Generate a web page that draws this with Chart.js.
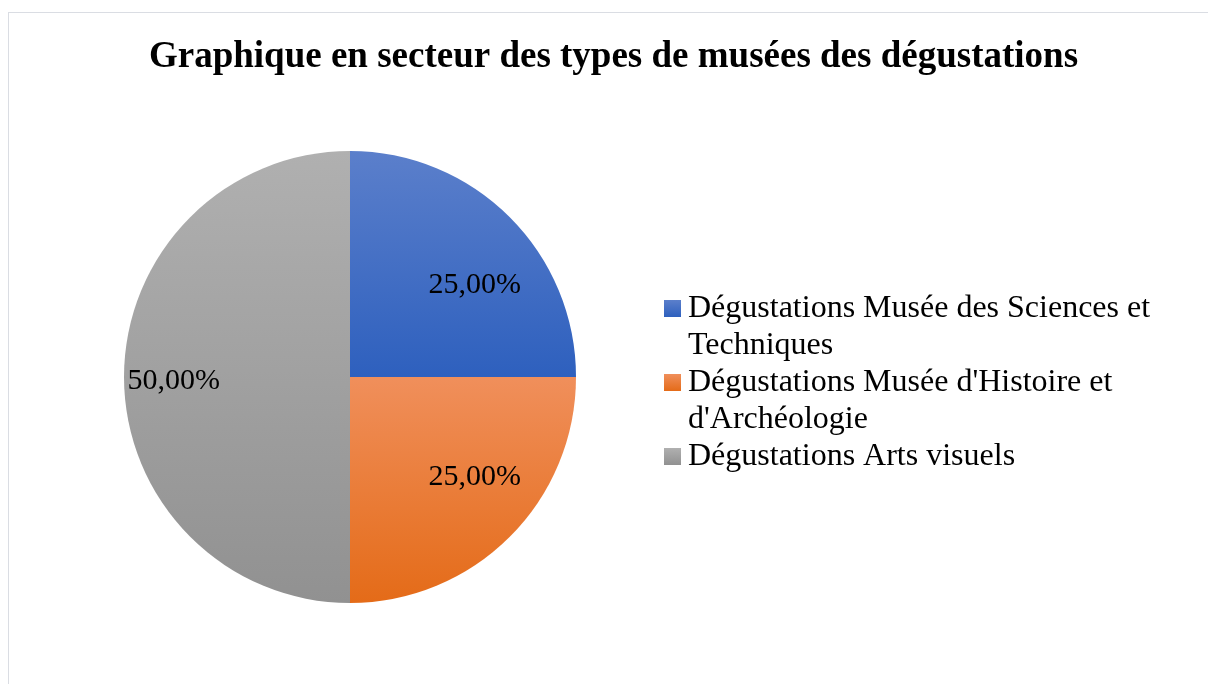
<!DOCTYPE html>
<html lang="fr">
<head>
<meta charset="utf-8">
<title>Graphique en secteur</title>
<script src="https://cdn.jsdelivr.net/npm/chart.js@4.4.0/dist/chart.umd.min.js"></script>
<style>
    html, body { margin: 0; padding: 0; background: #fff; overflow: hidden; }
    #cadre {
        position: absolute; left: 8px; top: 12px;
        width: 1212px; height: 690px;
        border-left: 1px solid #dadde3; border-top: 1px solid #dadde3;
    }
    #cadre canvas { position: absolute; left: -1px; top: -1px; }
</style>
</head>
<body>
<div id="cadre"><canvas id="pieChart" width="1212" height="690"></canvas></div>
<script>
// DONNÉES
const categories = [
    "Dégustations Musée des Sciences et Techniques",
    "Dégustations Musée d'Histoire et d'Archéologie",
    "Dégustations Arts visuels"
];
const valeurs = [25, 25, 50];
const etiquettes = ["25,00%", "25,00%", "50,00%"];
const titre = "Graphique en secteur des types de musées des dégustations";

// couleurs dégradées (haut, bas) de chaque secteur
const degrades = [
    ["#5b7fcb", "#2e60be"],
    ["#f08f5b", "#e46b18"],
    ["#b0b0b0", "#919191"]
];

const SERIF = "'Liberation Serif', 'Times New Roman', serif";

// géométrie d'un secteur à partir des valeurs
function bornesSecteur(chart, i) {
    const a = chart.chartArea;
    const cx = (a.left + a.right) / 2, cy = (a.top + a.bottom) / 2;
    const r = Math.min(a.right - a.left, a.bottom - a.top) / 2;
    const total = valeurs.reduce((s, v) => s + v, 0);
    const avant = valeurs.slice(0, i).reduce((s, v) => s + v, 0);
    const debut = -Math.PI / 2 + 2 * Math.PI * avant / total;
    const fin = debut + 2 * Math.PI * valeurs[i] / total;
    const ys = [cy, cy + r * Math.sin(debut), cy + r * Math.sin(fin)];
    for (const k of [-Math.PI / 2, Math.PI / 2, 3 * Math.PI / 2]) {
        if (k > debut + 1e-6 && k < fin - 1e-6) ys.push(cy + r * Math.sin(k));
    }
    return { cx, cy, r, debut, fin, haut: Math.min(...ys), bas: Math.max(...ys) };
}

function couleurSecteur(c) {
    const chart = c.chart, i = c.dataIndex;
    if (!chart.chartArea) return degrades[i][0];
    const b = bornesSecteur(chart, i);
    const g = chart.ctx.createLinearGradient(0, b.haut, 0, b.bas);
    g.addColorStop(0, degrades[i][0]);
    g.addColorStop(1, degrades[i][1]);
    return g;
}

// titre (dessiné à part pour ne pas être compressé par le padding)
const pluginTitre = {
    id: "titre",
    afterDraw(chart) {
        const ctx = chart.ctx;
        ctx.save();
        ctx.font = "bold 37px " + SERIF;
        ctx.fillStyle = "#000";
        ctx.textAlign = "center";
        ctx.textBaseline = "alphabetic";
        ctx.fillText(titre, 605.5, 55);
        ctx.restore();
    }
};

// étiquettes de données
const pluginEtiquettes = {
    id: "etiquettes",
    afterDatasetsDraw(chart) {
        const ctx = chart.ctx;
        ctx.save();
        ctx.font = "30px " + SERIF;
        ctx.fillStyle = "#000";
        ctx.textAlign = "center";
        ctx.textBaseline = "middle";
        etiquettes.forEach((txt, i) => {
            const b = bornesSecteur(chart, i);
            const m = (b.debut + b.fin) / 2;
            const x = b.cx + Math.cos(m) * b.r * 0.78;
            const y = b.cy + Math.sin(m) * b.r * 0.6 + 4.5;
            ctx.fillText(txt, x, y);
        });
        ctx.restore();
    }
};

// légende avec retour à la ligne
const pluginLegende = {
    id: "legendeMultiligne",
    afterDraw(chart) {
        const ctx = chart.ctx;
        const x0 = 656, largeurMax = 480, interligne = 37;
        let y = 305;
        ctx.save();
        ctx.font = "32px " + SERIF;
        ctx.textBaseline = "alphabetic";
        categories.forEach((lib, i) => {
            const mots = lib.split(" ");
            const lignes = [];
            let courante = "";
            mots.forEach(m => {
                const essai = courante ? courante + " " + m : m;
                if (ctx.measureText(essai).width > largeurMax && courante) {
                    lignes.push(courante);
                    courante = m;
                } else {
                    courante = essai;
                }
            });
            lignes.push(courante);

            const g = ctx.createLinearGradient(0, y - 17, 0, y);
            g.addColorStop(0, degrades[i][0]);
            g.addColorStop(1, degrades[i][1]);
            ctx.fillStyle = g;
            ctx.fillRect(x0, y - 17, 17, 17);

            ctx.fillStyle = "#000";
            lignes.forEach(l => {
                ctx.fillText(l, x0 + 24, y);
                y += interligne;
            });
        });
        ctx.restore();
    }
};

const canvas = document.getElementById("pieChart");
const pieChart = new Chart(canvas.getContext("2d"), {
    type: "pie",
    data: {
        labels: categories,
        datasets: [{
            data: valeurs,
            backgroundColor: couleurSecteur,
            borderWidth: 0
        }]
    },
    options: {
        responsive: false,
        animation: false,
        layout: {
            padding: { left: 116, right: 644, top: 139, bottom: 99 }
        },
        plugins: {
            legend: { display: false },
            tooltip: { enabled: false },
            title: { display: false }
        }
    },
    plugins: [pluginEtiquettes, pluginLegende, pluginTitre]
});
</script>
</body>
</html>
